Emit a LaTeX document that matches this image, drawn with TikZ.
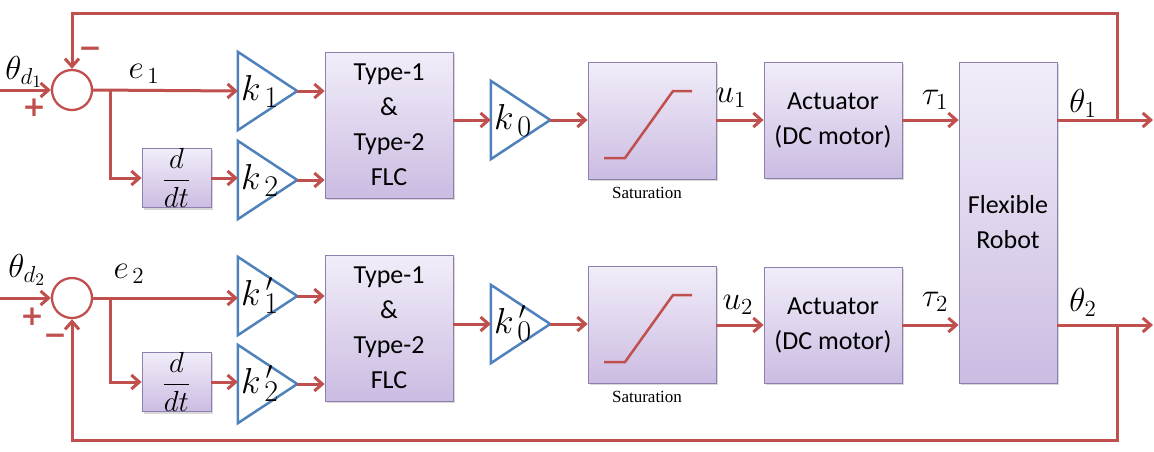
\documentclass[tikz,border=0pt]{standalone}
\usepackage{fontspec}
\setmainfont{Carlito}
\newfontfamily\serifl{Liberation Serif}
\newfontfamily\dejavu{DejaVu Sans}
\usetikzlibrary{arrows.meta,shadows}
\definecolor{lred}{HTML}{C0504D}
\definecolor{lblue}{HTML}{4F81BD}
\definecolor{boxtop}{HTML}{F2EDF9}
\definecolor{boxbot}{HTML}{CBBCE2}
\definecolor{boxline}{HTML}{8E7FAE}
\newcommand\mymath[1]{\scalebox{1.6}{#1}}
\newcommand\kmath[1]{\scalebox{1.45}{#1}}
\newcommand\dmath[1]{\scalebox{1.4}{#1}}
\begin{document}
\begin{tikzpicture}[x=1pt,y=-1pt,
  sig/.style={draw=lred,line width=3pt,-{Straight Barb[length=8pt,width=14pt]}},
  blk/.style={draw=boxline,line width=0.8pt,top color=boxtop,bottom color=boxbot,
    drop shadow={opacity=0.3,shadow xshift=2pt,shadow yshift=-2pt},
    inner sep=0pt,align=center,font=\fontsize{26}{35}\selectfont},
  gain/.style={inner sep=0pt,minimum width=59pt,minimum height=78pt},
  tri/.style={draw=lblue,line width=2.5pt,line join=miter},
  sum/.style={circle,draw=lred,line width=2.3pt,minimum size=40pt,inner sep=0pt},
  klab/.style={anchor=west,inner sep=0pt,font=\fontsize{24.88}{30}\selectfont},
  lab/.style={inner sep=0pt,font=\fontsize{22}{26}\selectfont},
  sign/.style={text=lred,inner sep=0pt,font=\dejavu\bfseries\fontsize{28}{28}\selectfont},
  satlab/.style={inner sep=0pt,font=\serifl\fontsize{17}{20}\selectfont}
]
\fill[white] (0,0) rectangle (1154,451);
\useasboundingbox (0,0) rectangle (1154,451);

% ---------- top loop ----------
\node[sum] (s1) at (72,90) {};
\node[gain] (k1) at (267.5,91) {};
\node[gain] (k2) at (267.5,180) {};
\node[blk,minimum width=69pt,minimum height=52pt] (d1) at (176.5,178) {\fontsize{20.74}{24}\selectfont\dmath{$\displaystyle\frac{d}{dt}$}};
\node[blk,minimum width=128pt,minimum height=146pt] (f1) at (389,125) {Type-1\\\&\\Type-2\\FLC};
\node[gain] (k0) at (520.5,120) {};
\node[blk,minimum width=128pt,minimum height=117pt] (sat1) at (652,120.5) {};
\node[satlab] (sl1) at (647,193) {Saturation};
\node[blk,minimum width=138pt,minimum height=116pt] (a1) at (833,120) {Actuator\\(DC motor)};

% ---------- bottom loop ----------
\node[sum] (s2) at (72,298) {};
\node[gain] (k1b) at (267.5,296) {};
\node[gain] (k2b) at (267.5,384) {};
\node[blk,minimum width=69pt,minimum height=52pt] (d2) at (176.5,382) {\fontsize{20.74}{24}\selectfont\dmath{$\displaystyle\frac{d}{dt}$}};
\node[blk,minimum width=128pt,minimum height=146pt] (f2) at (389,328) {Type-1\\\&\\Type-2\\FLC};
\node[gain] (k0b) at (520.5,324) {};
\node[blk,minimum width=128pt,minimum height=117pt] (sat2) at (652,324.5) {};
\node[satlab] (sl2) at (647,397) {Saturation};
\node[blk,minimum width=138pt,minimum height=116pt] (a2) at (833,325) {Actuator\\(DC motor)};

% ---------- plant ----------
\node[blk,minimum width=98pt,minimum height=321pt] (rob) at (1008,222.5) {Flexible\\Robot};

% gain triangles
\foreach \n in {k1,k2,k0,k1b,k2b,k0b}
  \draw[tri] (\n.north west) -- (\n.east) -- (\n.south west) -- cycle;
\node[klab] at ([xshift=3pt]k1.west) {\kmath{$k_{\,1}$}};
\node[klab] at ([xshift=3pt]k2.west) {\kmath{$k_{\,2}$}};
\node[klab] at ([xshift=3pt]k0.west) {\kmath{$k_{\,0}$}};
\node[klab] at ([xshift=3pt]k1b.west) {\kmath{$k^{\,\scriptscriptstyle\prime}_{\,1}$}};
\node[klab] at ([xshift=3pt]k2b.west) {\kmath{$k^{\,\scriptscriptstyle\prime}_{\,2}$}};
\node[klab] at ([xshift=3pt]k0b.west) {\kmath{$k^{\,\scriptscriptstyle\prime}_{\,0}$}};

% saturation curves
\draw[lred,line width=2.5pt] ([shift={(-48,37.5)}]sat1.center) -- ++(21,0) -- ++(48,-67) -- ++(19,0);
\draw[lred,line width=2.5pt] ([shift={(-48,37.5)}]sat2.center) -- ++(21,0) -- ++(48,-67) -- ++(19,0);

% coordinates
\coordinate (in1) at (0,90);
\coordinate (in2) at (0,298);
\coordinate (br1) at (110,90);
\coordinate (br2) at (110,298);
\coordinate (j1) at (1117,120);
\coordinate (j2) at (1117,325);
\coordinate (o1) at (1153,120);
\coordinate (o2) at (1153,325);
\coordinate (t1) at (72,13);
\coordinate (b1) at (72,440);

% ---------- connectors top ----------
\draw[sig] (in1) -- (s1.west);
\draw[sig] (s1.east) -- (k1.west);
\draw[sig] (br1) |- (d1.west);
\draw[sig] (d1.east) -- (k2.west |- d1.east);
\draw[sig] (k1.east) -- (f1.west |- k1.east);
\draw[sig] (k2.east) -- (f1.west |- k2.east);
\draw[sig] (f1.east |- k0.west) -- (k0.west);
\draw[sig] (k0.east) -- (sat1.west |- k0.east);
\draw[sig] (sat1.east |- a1.west) -- (a1.west);
\draw[sig] (a1.east) -- (rob.west |- a1.east);
\draw[sig] (rob.east |- j1) -- (o1);
\draw[sig] (j1) |- (t1) -- (s1.north);

% ---------- connectors bottom ----------
\draw[sig] (in2) -- (s2.west);
\draw[sig] (s2.east) -- (k1b.west |- s2.east);
\draw[sig] (br2) |- (d2.west);
\draw[sig] (d2.east) -- (k2b.west |- d2.east);
\draw[sig] (k1b.east) -- (f2.west |- k1b.east);
\draw[sig] (k2b.east) -- (f2.west |- k2b.east);
\draw[sig] (f2.east |- k0b.west) -- (k0b.west);
\draw[sig] (k0b.east) -- (sat2.west |- k0b.east);
\draw[sig] (sat2.east |- a2.west) -- (a2.west);
\draw[sig] (a2.east) -- (rob.west |- a2.east);
\draw[sig] (rob.east |- j2) -- (o2);
\draw[sig] (j2) |- (b1) -- (s2.south);

% ---------- labels ----------
\node[lab] at (24,72) {\mymath{$\theta_{d_1}$}};
\node[lab] at (27,270) {\mymath{$\theta_{d_2}$}};
\node[lab] at (144,74) {\mymath{$e_{\,1}$}};
\node[lab] at (129,274) {\mymath{$e_{\,2}$}};
\node[lab] at (731,98) {\mymath{$u_{1}$}};
\node[lab] at (738,305) {\mymath{$u_{2}$}};
\node[lab] at (935,100) {\mymath{$\tau_{1}$}};
\node[lab] at (935,302) {\mymath{$\tau_{2}$}};
\node[lab] at (1083,103) {\mymath{$\theta_{1}$}};
\node[lab] at (1083,302) {\mymath{$\theta_{2}$}};
\node[sign] at (34,108) {+};
\node[sign] at (90,52) {−};
\node[sign] at (32,317) {+};
\node[sign] at (55,339) {−};
\end{tikzpicture}
\end{document}
